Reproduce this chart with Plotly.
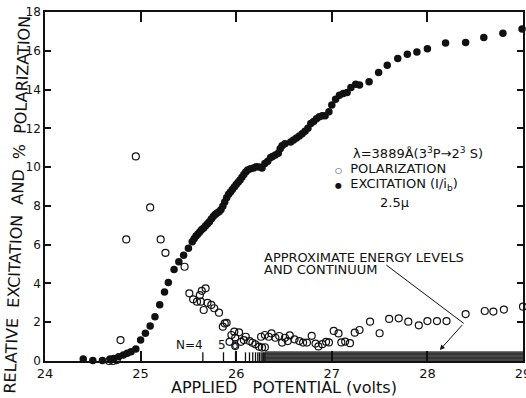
import plotly.graph_objects as go

# ---------------- data ----------------
exc_x = [24.40, 24.50, 24.60, 24.68, 24.72, 24.77, 24.82, 24.86, 24.90, 24.95,
         25.00, 25.05, 25.10, 25.15, 25.20, 25.25, 25.29, 25.35, 25.40, 25.45,
         25.50, 25.54, 25.56, 25.58, 25.60, 25.62, 25.64, 25.66, 25.68, 25.70,
         25.72, 25.74, 25.76, 25.78, 25.80, 25.82, 25.84, 25.86, 25.88, 25.90,
         25.92, 25.94, 25.96, 25.98, 26.00, 26.02, 26.04, 26.06, 26.08, 26.10,
         26.12, 26.15, 26.18, 26.21, 26.24, 26.27, 26.30, 26.33, 26.36, 26.38,
         26.41, 26.44, 26.46, 26.48, 26.51, 26.57, 26.60, 26.63, 26.66, 26.69,
         26.72, 26.75, 26.78, 26.81, 26.84, 26.87, 26.90, 26.93, 26.97, 27.00,
         27.04, 27.08, 27.12, 27.16, 27.20, 27.25, 27.29, 27.39, 27.49, 27.58,
         27.69, 27.79, 27.89, 28.00, 28.19, 28.40, 28.59, 28.79, 28.99]
exc_y = [0.10, 0.02, 0.02, 0.10, 0.13, 0.22, 0.31, 0.40, 0.48, 0.62,
         1.08, 1.43, 1.80, 2.28, 2.90, 3.56, 4.05, 4.72, 5.12, 5.45,
         5.82, 6.15, 6.30, 6.45, 6.55, 6.67, 6.78, 6.86, 6.98, 7.08,
         7.18, 7.32, 7.45, 7.55, 7.63, 7.70, 7.80, 7.98, 8.20, 8.42,
         8.60, 8.72, 8.85, 8.98, 9.10, 9.22, 9.33, 9.48, 9.62, 9.75,
         9.85, 9.92, 9.95, 10.02, 10.00, 9.95, 10.18, 10.30, 10.50, 10.55,
         10.62, 10.72, 10.95, 11.10, 11.20, 11.30, 11.40, 11.50, 11.60, 11.72,
         11.85, 12.00, 12.25, 12.35, 12.50, 12.60, 12.65, 12.65, 12.85, 13.20,
         13.50, 13.70, 13.80, 13.85, 14.10, 14.28, 14.24, 14.40, 14.88, 15.26,
         15.60, 15.82, 15.94, 16.10, 16.40, 16.43, 16.68, 16.90, 17.12]

pol_x = [24.67, 24.71, 24.75, 24.79, 24.85, 24.95, 25.10, 25.21, 25.26, 25.46,
         25.51, 25.55, 25.59, 25.62, 25.64, 25.68, 25.63, 25.66, 25.70, 25.74,
         25.77, 25.82, 25.86, 25.88, 25.90, 25.95, 25.93, 25.98, 25.99, 26.03,
         25.99, 26.05, 26.08, 26.10, 26.14, 26.17, 26.20, 26.24, 26.26, 26.27,
         26.30, 26.30, 26.34, 26.37, 26.41, 26.45, 26.48, 26.51, 26.54, 26.56,
         26.61, 26.66, 26.70, 26.74, 26.79, 26.83, 26.86, 26.90, 26.94, 26.97,
         27.02, 27.07, 27.10, 27.14, 27.19, 27.24, 27.29, 27.40, 27.50, 27.60,
         27.70, 27.80, 27.91, 28.00, 28.10, 28.20, 28.40, 28.60, 28.69, 28.80,
         29.00]
pol_y = [0.00, 0.00, 0.05, 1.08, 6.27, 10.55, 7.92, 6.27, 5.58, 4.86,
         3.49, 3.18, 3.06, 3.40, 3.62, 3.75, 3.06, 2.63, 3.00, 2.89,
         2.72, 2.49, 1.77, 1.94, 1.97, 1.34, 0.99, 1.51, 1.20, 1.48,
         0.77, 0.99, 1.08, 1.25, 1.03, 0.94, 0.86, 0.74, 1.25, 0.69,
         0.71, 1.34, 1.25, 1.42, 1.20, 1.29, 0.95, 1.20, 1.03, 1.32,
         1.12, 1.03, 0.95, 0.95, 1.30, 0.90, 0.75, 0.87, 0.99, 0.96,
         1.55, 1.42, 0.96, 1.00, 0.92, 1.46, 1.60, 2.03, 1.43, 2.17,
         2.20, 2.03, 1.84, 2.06, 2.06, 2.06, 2.42, 2.58, 2.55, 2.65,
         2.80]

level_x = [25.651, 25.867, 25.993, 26.097, 26.139, 26.173, 26.202, 26.226,
           26.243, 26.261, 26.278, 26.288, 26.299]
level_h = 0.45
continuum_x = [26.30, 29.0]
continuum_h = 0.5

x_ticks = [24, 25, 26, 27, 28, 29]
y_ticks = [0, 2, 4, 6, 8, 10, 12, 14, 16, 18]

FONT = "DejaVu Sans"
INK = "#111111"

fig = go.Figure()

# continuum band
fig.add_trace(go.Scatter(
    x=[continuum_x[0], continuum_x[1], continuum_x[1], continuum_x[0], continuum_x[0]],
    y=[0, 0, continuum_h, continuum_h, 0],
    mode="lines", fill="toself", line=dict(width=0),
    fillcolor="#333333",
    fillpattern=dict(shape="-", fgcolor="#111111", bgcolor="#5a5a5a", size=4, solidity=0.75),
    hoverinfo="skip", showlegend=False))

# energy level ticks
lx, ly = [], []
for v in level_x:
    lx += [v, v, None]
    ly += [0, level_h, None]
fig.add_trace(go.Scatter(x=lx, y=ly, mode="lines",
                         line=dict(color=INK, width=1.3),
                         hoverinfo="skip", showlegend=False))

# polarization (open)
fig.add_trace(go.Scatter(x=pol_x, y=pol_y, mode="markers", name="POLARIZATION",
                         marker=dict(symbol="circle-open", size=7, color=INK,
                                     line=dict(width=1.2, color=INK)),
                         cliponaxis=False, showlegend=False))
# excitation (filled)
fig.add_trace(go.Scatter(x=exc_x, y=exc_y, mode="markers", name="EXCITATION",
                         marker=dict(symbol="circle", size=7.5, color=INK),
                         cliponaxis=False, showlegend=False))

ann = []
tf = dict(family=FONT, size=13, color=INK)
ann.append(dict(x=27.20, y=10.73, xref="x", yref="y", xanchor="left", yanchor="middle",
                text="λ=3889Å(3<sup>3</sup>P→2<sup>3</sup> S)", showarrow=False, font=tf))
ann.append(dict(x=27.01, y=9.95, xref="x", yref="y", xanchor="left", yanchor="middle",
                text="<span style='font-size:8px'>○</span>  POLARIZATION", showarrow=False, font=tf))
ann.append(dict(x=27.01, y=9.08, xref="x", yref="y", xanchor="left", yanchor="middle",
                text="<span style='font-size:8px'>●</span>  EXCITATION (I/i<sub>b</sub>)", showarrow=False, font=tf))
ann.append(dict(x=27.66, y=8.2, xref="x", yref="y", xanchor="center", yanchor="middle",
                text="2.5μ", showarrow=False, font=tf))
ann.append(dict(x=26.275, y=5.36, xref="x", yref="y", xanchor="left", yanchor="middle",
                text="APPROXIMATE ENERGY LEVELS", showarrow=False, font=tf))
ann.append(dict(x=26.275, y=4.74, xref="x", yref="y", xanchor="left", yanchor="middle",
                text="AND CONTINUUM", showarrow=False, font=tf))
ann.append(dict(x=25.675, y=0.8, xref="x", yref="y", xanchor="right", yanchor="middle",
                text="N=4", showarrow=False, font=dict(family=FONT, size=12, color=INK)))
ann.append(dict(x=25.855, y=0.8, xref="x", yref="y", xanchor="center", yanchor="middle",
                text="5", showarrow=False, font=dict(family=FONT, size=12, color=INK)))
ann.append(dict(x=25.99, y=0.8, xref="x", yref="y", xanchor="center", yanchor="middle",
                text="6", showarrow=False, font=dict(family=FONT, size=12, color=INK)))
# pointer
ann.append(dict(x=28.13, y=0.57, ax=28.38, ay=1.94, xref="x", yref="y",
                axref="x", ayref="y", text="", showarrow=True, arrowhead=2,
                arrowsize=1, arrowwidth=1, arrowcolor=INK))
# axis titles
ann.append(dict(x=0.5, y=-0.075, xref="paper", yref="paper", xanchor="center", yanchor="middle",
                text="APPLIED\u00a0\u00a0 POTENTIAL (volts)", showarrow=False,
                font=dict(family=FONT, size=16, color=INK)))
ann.append(dict(x=-0.057, y=0.447, xref="paper", yref="paper", xanchor="center", yanchor="middle",
                text="RELATIVE\u00a0 EXCITATION\u00a0 AND\u00a0 %\u00a0 POLARIZATION", textangle=-87.7,
                showarrow=False, font=dict(family=FONT, size=16, color=INK)))

fig.update_layout(
    width=526, height=398,
    margin=dict(l=45, r=3, t=12, b=37, autoexpand=False),
    paper_bgcolor="white", plot_bgcolor="white",
    font=dict(family=FONT, color=INK),
    annotations=ann,
    shapes=[dict(type="line", xref="x", yref="y", x0=27.57, y0=4.95, x1=28.38, y1=1.94,
                 line=dict(color=INK, width=1))],
    xaxis=dict(range=[24, 29], tickvals=x_ticks, ticks="inside", ticklen=10, tickwidth=1.5,
               tickcolor=INK, showline=True, linecolor=INK, linewidth=1.5, mirror="ticks",
               showgrid=False, zeroline=False, automargin=False, ticklabeloverflow="allow",
               tickfont=dict(family=FONT, size=13, color=INK)),
    yaxis=dict(range=[0, 18], tickvals=y_ticks, ticks="inside", ticklen=6, tickwidth=1.5,
               tickcolor=INK, showline=True, linecolor=INK, linewidth=1.5, mirror="ticks",
               showgrid=False, zeroline=False, automargin=False, ticklabeloverflow="allow",
               tickfont=dict(family=FONT, size=12, color=INK)),
)

fig.write_html("out.html", config={"displayModeBar": False},
               post_script="document.body.style.margin='0';document.body.style.overflow='hidden';")
